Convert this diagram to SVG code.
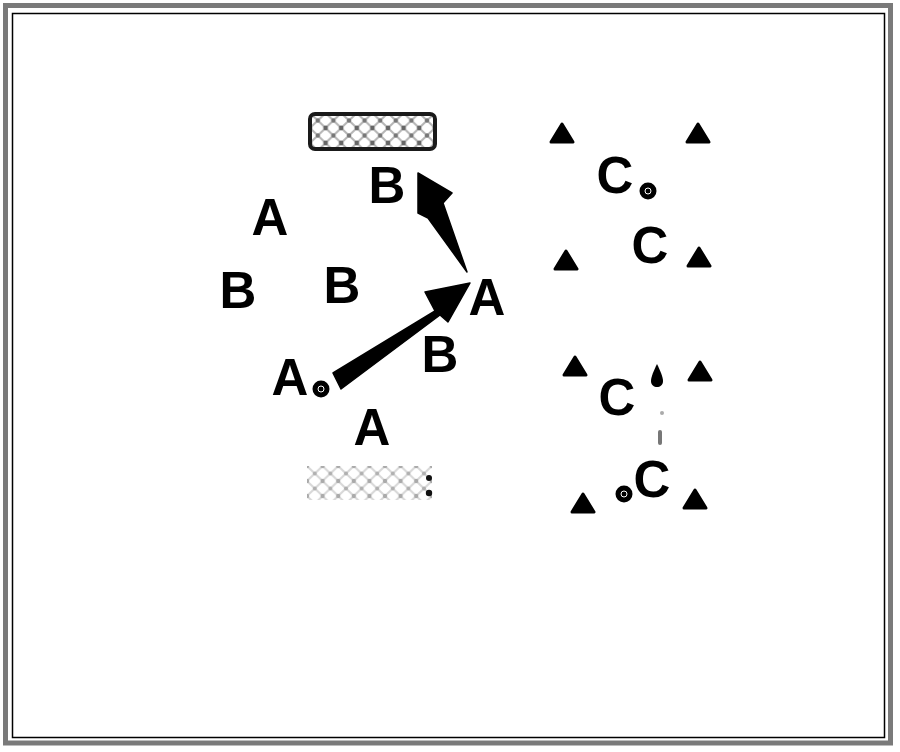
<svg xmlns="http://www.w3.org/2000/svg" width="900" height="752" viewBox="0 0 900 752">
<style>
.lbl{font-family:"Liberation Sans",Arial,sans-serif;font-weight:bold;font-size:51px;fill:#000;text-anchor:middle}
.cone{fill:#000;stroke:#000;stroke-width:3;stroke-linejoin:round}
.ball{fill:#000}
.ballin{fill:none;stroke:#fff;stroke-width:1}
.arrow{fill:#000;stroke:#000;stroke-width:1.5;stroke-linejoin:round}
</style>
<defs>
<pattern id="hatchDark" width="15.6" height="15" patternUnits="userSpaceOnUse" x="310" y="113">
<rect width="15.6" height="15" fill="#fff"/>
<path d="M0,0 L15.6,15 M15.6,0 L0,15" stroke="#b5b5b5" stroke-width="2"/>
<circle cx="0" cy="0" r="2.4" fill="#666"/><circle cx="15.6" cy="0" r="2.4" fill="#666"/>
<circle cx="0" cy="15" r="2.4" fill="#666"/><circle cx="15.6" cy="15" r="2.4" fill="#666"/>
<circle cx="7.8" cy="7.5" r="2.2" fill="#777"/>
</pattern>
<pattern id="hatchLight" width="15.6" height="15" patternUnits="userSpaceOnUse" x="307" y="466">
<rect width="15.6" height="15" fill="#fff"/>
<path d="M0,0 L15.6,15 M15.6,0 L0,15" stroke="#d8d8d8" stroke-width="2"/>
<circle cx="0" cy="0" r="2.2" fill="#aaa"/><circle cx="15.6" cy="0" r="2.2" fill="#aaa"/>
<circle cx="0" cy="15" r="2.2" fill="#aaa"/><circle cx="15.6" cy="15" r="2.2" fill="#aaa"/>
<circle cx="7.8" cy="7.5" r="2" fill="#b0b0b0"/>
</pattern>
<path id="coneShape" d="M0,-9 L11,9 L-11,9 Z"/>
</defs>
<rect width="900" height="752" fill="#fff"/>
<g id="frame">
<rect x="5.5" y="5.5" width="885" height="737.5" fill="none" stroke="#7a7a7a" stroke-width="5"/>
<rect x="12.5" y="13.5" width="872" height="724" fill="none" stroke="#000" stroke-width="1.5"/>
</g>
<g id="goal-top">
<rect x="310" y="114" width="125" height="35" rx="5" fill="url(#hatchDark)" stroke="#1a1a1a" stroke-width="4"/>
</g>
<g id="goal-bottom">
<rect x="307" y="466" width="125" height="34" fill="url(#hatchLight)"/>
<circle cx="429" cy="478" r="3" fill="#111"/>
<circle cx="429" cy="493" r="3.2" fill="#111"/>
</g>
<g id="connectors">
<polygon class="arrow" points="333,373 435,311 425,292 470,283 448,322 440,315 341,389"/>
<polygon class="arrow" points="418,173 452,193 443,203 467,272 428,218 418,213"/>
<path d="M657,364 C660,370 663,377 663,381 C663,385 660,387 657,387 C654,387 651,385 651,381 C651,377 654,370 657,364 Z" fill="#000"/>
<circle cx="662" cy="413" r="2" fill="#aaa"/>
<rect x="658" y="430" width="4" height="15" rx="2" fill="#777"/>
</g>
<g id="player-A1"><text class="lbl" x="270" y="235">A</text></g>
<g id="player-B1"><text class="lbl" x="238" y="308">B</text></g>
<g id="player-B2"><text class="lbl" x="342" y="303">B</text></g>
<g id="player-B3"><text class="lbl" x="387" y="203">B</text></g>
<g id="player-A2"><text class="lbl" x="487" y="315">A</text></g>
<g id="player-B4"><text class="lbl" x="440" y="372">B</text></g>
<g id="player-A3"><text class="lbl" x="290" y="395">A</text>
<circle class="ball" cx="321" cy="389" r="8.5"/><circle class="ballin" cx="321" cy="389" r="3"/></g>
<g id="player-A4"><text class="lbl" x="372" y="445">A</text></g>
<g id="player-C1"><text class="lbl" x="615" y="193">C</text>
<circle class="ball" cx="648" cy="191" r="8.5"/><circle class="ballin" cx="648" cy="191" r="3"/></g>
<g id="player-C2"><text class="lbl" x="650" y="263">C</text></g>
<g id="player-C3"><text class="lbl" x="617" y="415">C</text></g>
<g id="player-C4"><text class="lbl" x="652" y="497">C</text>
<circle class="ball" cx="624" cy="494" r="8.5"/><circle class="ballin" cx="624" cy="494" r="3"/></g>
<g id="cones">
<use href="#coneShape" class="cone" x="562" y="133"/>
<use href="#coneShape" class="cone" x="698" y="133"/>
<use href="#coneShape" class="cone" x="566" y="260"/>
<use href="#coneShape" class="cone" x="699" y="257"/>
<use href="#coneShape" class="cone" x="575" y="366"/>
<use href="#coneShape" class="cone" x="700" y="371"/>
<use href="#coneShape" class="cone" x="583" y="503"/>
<use href="#coneShape" class="cone" x="695" y="499"/>
</g>
</svg>
